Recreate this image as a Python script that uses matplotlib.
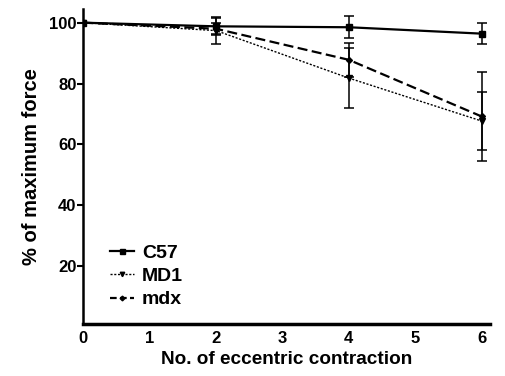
import matplotlib
matplotlib.use("Agg")
import matplotlib.pyplot as plt
from matplotlib.lines import Line2D

# eccentric contraction number and % of max force (mean, SEM)
contractions = [0, 2, 4, 6]
c57_mean = [100, 98.8, 98.5, 96.4]
c57_err = [0, 2.6, 3.6, 3.5]
md1_mean = [100, 97.4, 81.8, 67.7]
md1_err = [0, 4.5, 9.8, 9.6]
mdx_mean = [100, 98.0, 87.8, 69.2]
mdx_err = [0, 2.0, 5.6, 14.7]

plt.rcParams['font.family'] = ['Liberation Sans', 'DejaVu Sans']
plt.rcParams['font.weight'] = 'bold'

fig = plt.figure(figsize=(5.05, 3.76), dpi=100)
ax = fig.add_axes([0.165, 0.1383, 0.805, 0.8378])

styles = {
    'C57': dict(lw=1.6, marker='s', ms=4.5, ls='-'),
    'MD1': dict(lw=1.0, marker='v', ms=4, ls=(0, (1.5, 1.2))),
    'mdx': dict(lw=1.6, marker='D', ms=3, ls=(0, (4.5, 2))),
}

for name, mean, err in [('C57', c57_mean, c57_err),
                        ('MD1', md1_mean, md1_err),
                        ('mdx', mdx_mean, mdx_err)]:
    ax.errorbar(contractions, mean, yerr=err, color='black',
                capsize=3.5, elinewidth=1.1, capthick=1.1,
                zorder=3 if name == 'C57' else 2, **styles[name])

ax.set_xlim(0, 6.125)
ax.set_ylim(1, 104.5)
ax.set_xticks(range(0, 7))
ax.set_yticks([20, 40, 60, 80, 100])
ax.tick_params(axis='y', direction='out', length=4, width=1.5,
               labelsize=12, pad=1)
ax.tick_params(axis='x', length=0, labelsize=12, pad=5)
for lab in ax.get_xticklabels() + ax.get_yticklabels():
    lab.set_fontweight('bold')
ax.spines['top'].set_visible(False)
ax.spines['right'].set_visible(False)
ax.spines['left'].set_linewidth(1.8)
ax.spines['bottom'].set_linewidth(2.5)

ax.set_xlabel('No. of eccentric contraction', fontsize=13.7,
              fontweight='bold', labelpad=4)
ax.set_ylabel('% of maximum force', fontsize=14.5, fontweight='bold',
              labelpad=6)

# legend keys: shorter dashes so the pattern shows on a short handle
handles = []
for n in styles:
    kw = dict(styles[n])
    kw['ms'] = kw['ms'] * 0.8
    if n == 'mdx':
        kw['ls'] = (0, (3, 1.5))
    handles.append(Line2D([], [], color='black', **kw))
leg = fig.legend(handles, list(styles), loc='upper left',
                 bbox_to_anchor=(110 / 505, 1 - 244 / 376),
                 bbox_transform=fig.transFigure, frameon=False,
                 fontsize=14, handlelength=1.25, handletextpad=0.4,
                 labelspacing=0.3, borderpad=0, borderaxespad=0)
for t in leg.get_texts():
    t.set_fontweight('bold')

fig.savefig('out.png', dpi=100)
